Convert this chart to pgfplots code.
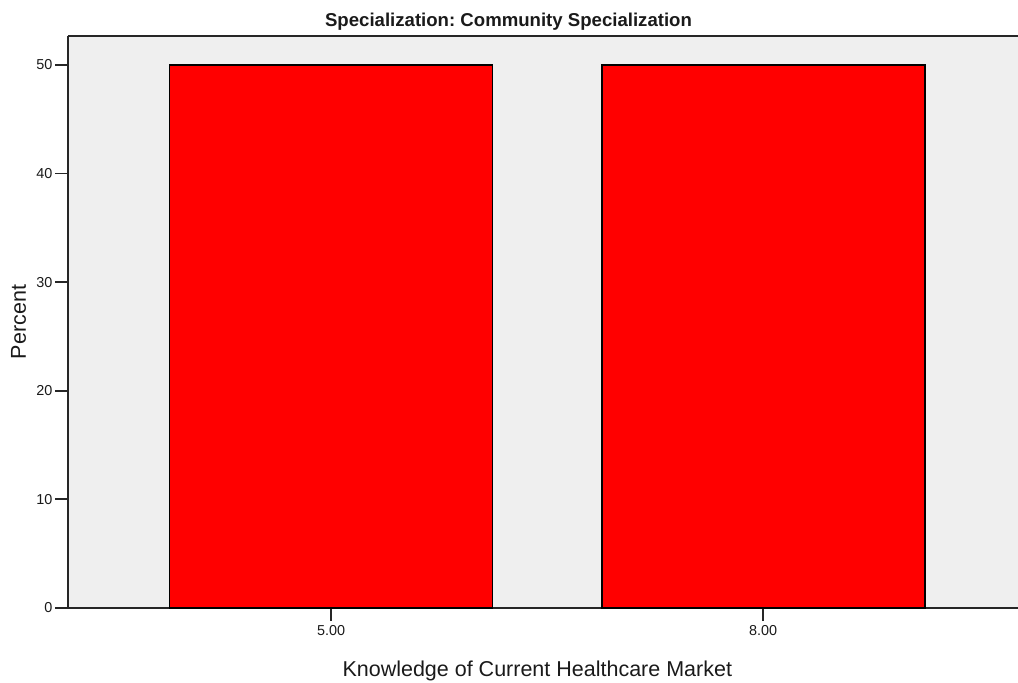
\documentclass[border=0pt]{standalone}
\usepackage{fontspec}
\setmainfont{Liberation Sans}
\usepackage{pgfplots}
\pgfplotsset{compat=1.18}
\frenchspacing

\definecolor{panelbg}{HTML}{EFEFEF}
\definecolor{barred}{HTML}{FF0000}
\definecolor{ink}{HTML}{1A1A1A}

\begin{document}
\begin{tikzpicture}
\begin{axis}[
    scale only axis,
    width=950pt, height=572pt,
    xmin=-0.609, xmax=1.59,
    ymin=0, ymax=52.67,
    axis x line*=box, axis y line*=left,
    y axis line style={-},
    axis line style={line width=1.8pt, draw=black!85},
    axis background/.style={fill=panelbg},
    xtick={0,1}, xticklabels={5.00,8.00},
    ytick={0,10,20,30,40,50},
    xtick pos=bottom, ytick pos=left,
    tick align=outside,
    major tick length=13pt,
    tick style={line width=1.8pt, draw=black!85},
    /pgf/number format/assume math mode=true,
    tick label style={font=\fontsize{14.4}{16}\selectfont, text=ink},
    yticklabel style={xshift=1pt},
    xticklabel style={yshift=-1pt},
    clip=false,
    ybar, bar width=323pt,
]
\addplot[fill=barred, draw=black, line width=1.8pt] coordinates {(0,50) (1,50)};
\coordinate (bl) at (rel axis cs:0,0);
\coordinate (tr) at (rel axis cs:1,1);
\node[anchor=base, text=ink, font=\fontsize{18.6}{20}\selectfont\bfseries]
  at (rel axis cs:0.4637,1) [yshift=9pt] {Specialization: Community Specialization};
\node[anchor=base, text=ink, font=\fontsize{21.5}{24}\selectfont]
  at (rel axis cs:0.494,0) [yshift=-68pt] {Knowledge of Current Healthcare Market};
\node[xshift=-42pt, anchor=base, rotate=90, text=ink, font=\fontsize{21.5}{24}\selectfont]
  at (rel axis cs:0,0.5) {Percent};
\end{axis}
\pgfresetboundingbox
\path ([shift={(-68pt,-75pt)}]bl) rectangle ([shift={(0pt,36pt)}]tr);
\end{tikzpicture}
\end{document}
